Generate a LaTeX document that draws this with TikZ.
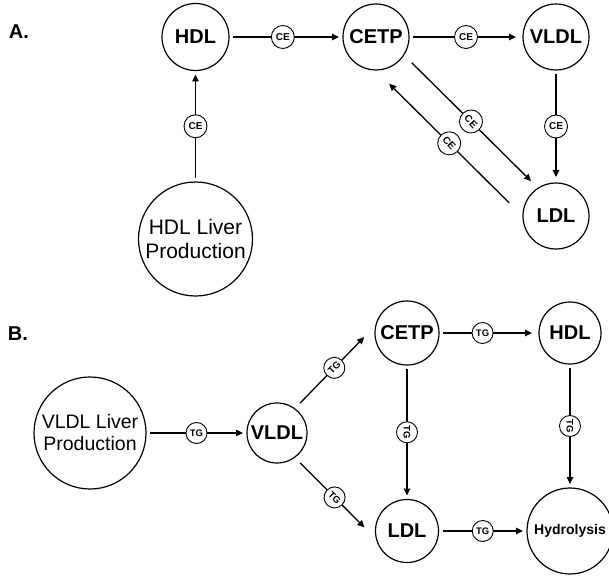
\documentclass[tikz,border=0pt]{standalone}
\usepackage{fontspec}
\setmainfont{Liberation Sans}
\usetikzlibrary{arrows.meta}
\begin{document}
\begin{tikzpicture}[x=1pt,y=-1pt,
  big/.style={draw, circle, inner sep=0pt, outer sep=4pt, line width=1.2pt, font=\bfseries\fontsize{20}{22}\selectfont},
  liver/.style={draw, circle, inner sep=0pt, outer sep=4pt, line width=1.2pt, align=center},
  lab/.style={draw, circle, fill=white, inner sep=0pt, minimum size=23pt, line width=0.9pt, font=\bfseries\fontsize{10}{11}\selectfont},
  labs/.style={lab, minimum size=21pt, font=\bfseries\fontsize{9.5}{10}\selectfont},
  flow/.style={line width=1.3pt, -{Triangle[length=7pt,width=6.5pt]}},
  panel/.style={font=\bfseries\fontsize{20}{22}\selectfont}]
\useasboundingbox (0,0) rectangle (609,577);

% Panel A
\node[panel] (pA) at (19,32) {A.};
\node[big, minimum size=67pt] (hdlA) at (195.5,37) {HDL};
\node[big, minimum size=66pt] (cetpA) at (376,37) {CETP};
\node[big, minimum size=66pt] (vldlA) at (556,37) {VLDL};
\node[big, minimum size=66pt] (ldlA) at (556,216) {LDL};
\node[liver, minimum size=114pt, font=\fontsize{21}{24}\selectfont] (livA) at (195.5,239) {HDL Liver\\Production};

\draw[flow] (hdlA) -- node[lab, pos=0.47]{CE} (cetpA);
\draw[flow, shorten >=3pt] (cetpA) -- node[lab]{CE} (vldlA);
\draw[flow] (livA) -- node[lab]{CE} (hdlA);
\draw[flow, shorten >=2pt] (vldlA) -- node[lab]{CE} (ldlA);
\draw[flow, shorten <=7pt, shorten >=6pt] (cetpA.-34) -- node[lab, rotate=-47]{CE} (ldlA.124);
\draw[flow, shorten <=14pt, shorten >=14pt] (ldlA.175.4) -- node[lab, rotate=-47]{CE} (cetpA.-85.4);

% Panel B
\node[panel] (pB) at (18,334) {B.};
\node[liver, minimum size=112pt, font=\fontsize{19.5}{22}\selectfont] (livB) at (90,433) {VLDL Liver\\Production};
\node[big, minimum size=60pt] (vldlB) at (277,433) {VLDL};
\node[big, minimum size=64pt] (cetpB) at (407,333) {CETP};
\node[big, minimum size=62pt] (hdlB) at (570,333) {HDL};
\node[big, minimum size=63pt] (ldlB) at (407,531) {LDL};
\node[big, minimum size=86pt, font=\bfseries\fontsize{14}{16}\selectfont] (hydB) at (570,531) {Hydrolysis};

\draw[flow] (livB) -- node[labs]{TG} (vldlB);
\draw[flow, shorten >=3pt] (cetpB) -- node[labs, pos=0.43]{TG} (hdlB);
\draw[flow] (ldlB) -- node[labs]{TG} (hydB);
\draw[flow] (cetpB) -- node[labs, rotate=-90]{TG} (ldlB);
\draw[flow] (hdlB) -- node[labs, rotate=-90]{TG} (hydB);
\draw[flow, shorten <=3.8pt, shorten >=10pt] (vldlB.53.4) -- node[labs, rotate=45]{TG} (cetpB.175);
\draw[flow, shorten <=3.8pt, shorten >=10.3pt] (vldlB.-53.4) -- node[labs, rotate=-45]{TG} (ldlB.186.8);
\end{tikzpicture}
\end{document}
